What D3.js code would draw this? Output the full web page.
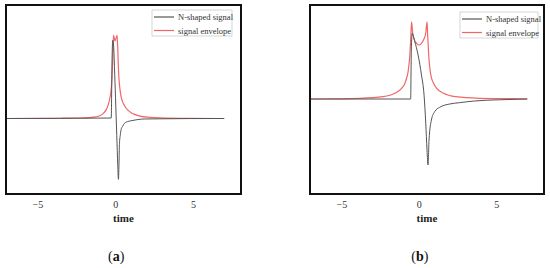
<!DOCTYPE html>
<html>
<head>
<meta charset="utf-8">
<script src="https://cdn.jsdelivr.net/npm/d3@7"></script>
<style>
  body { margin: 0; background: #fff; }
  svg { display: block; }
  text { font-family: "Liberation Serif", "Times New Roman", serif; }
</style>
</head>
<body>
<div id="chart"></div>
<script>
// values (time, relative amplitude)
const xTicks = [-5, 0, 5];
const seriesNames = ["N-shaped signal", "signal envelope"];
const panelNames = ["a", "b"];
const xTitle = "time";

const aSignalT = [-7, -0.258, -0.206, -0.161, -0.110, -0.032, 0.032, 0.097, 0.161, 0.206, 0.245, 0.271, 0.323, 0.374, 0.484, 0.594, 0.806, 1.02, 1.45, 1.90, 2.87, 4.81, 7];
const aSignalY = [0, 0.006, 0.73, 0.98, 0.92, 0.54, 0.17, -0.21, -0.58, -0.76, -0.52, -0.31, -0.21, -0.14, -0.094, -0.06, -0.038, -0.028, -0.013, -0.006, -0.004, -0.001, 0];
const aEnvT = [-7, -3.58, -2.29, -1.645, -1.258, -1.0, -0.8, -0.6, -0.45, -0.35, -0.27, -0.21, -0.16, -0.116, -0.013, 0.116, 0.16, 0.2, 0.25, 0.3, 0.36, 0.45, 0.6, 0.8, 1.0, 1.2, 1.58, 2.23, 2.87, 4.81, 7];
const aEnvY = [0, 0.003, 0.006, 0.012, 0.02, 0.034, 0.058, 0.105, 0.17, 0.25, 0.35, 0.5, 0.75, 1.04, 0.97, 1.04, 0.88, 0.64, 0.47, 0.37, 0.29, 0.22, 0.16, 0.107, 0.075, 0.055, 0.03, 0.014, 0.007, 0.001, 0];

const bSignalT = [-7, -0.526, -0.481, -0.429, -0.256, -0.045, 0.173, 0.34, 0.449, 0.532, 0.596, 0.66, 0.814, 1.026, 1.346, 1.987, 2.63, 3.59, 5.19, 7];
const bSignalY = [0, 0, 0.74, 0.995, 0.868, 0.667, 0.364, 0.06, -0.364, -0.773, -1.0, -0.621, -0.318, -0.192, -0.126, -0.076, -0.056, -0.03, -0.012, 0];
const bEnvT = [-7, -3.78, -2.31, -1.54, -1.11, -0.897, -0.788, -0.686, -0.577, -0.513, -0.468, -0.385, -0.256, -0.128, 0.019, 0.16, 0.32, 0.449, 0.532, 0.577, 0.64, 0.737, 0.833, 0.96, 1.154, 1.6, 2.37, 3.91, 7];
const bEnvY = [0, 0.011, 0.035, 0.087, 0.162, 0.236, 0.314, 0.419, 0.667, 0.95, 1.17, 0.98, 0.88, 0.84, 0.818, 0.84, 0.9, 1.0, 1.17, 0.95, 0.667, 0.42, 0.31, 0.236, 0.162, 0.087, 0.035, 0.011, 0.003];

const width = 550, height = 268;
const svg = d3.select("#chart").append("svg")
  .attr("width", width)
  .attr("height", height);

const panels = [
  { name: panelNames[0], left: 6, right: 241, yDom: [-0.944, 1.419], legX: 152, legW: 80, legY: 10,
    series: [[aSignalT, aSignalY], [aEnvT, aEnvY]] },
  { name: panelNames[1], left: 310, right: 544, yDom: [-1.439, 1.424], legX: 460, legW: 78, legY: 12,
    series: [[bSignalT, bSignalY], [bEnvT, bEnvY]] }
];
const frameTop = 5, frameBottom = 194;
const colors = ["#555", "#f26666"];
const serif = "'Liberation Serif', 'Times New Roman', serif";

panels.forEach((p, i) => {
  const x = d3.scaleLinear().domain([-7.02, 8.08]).range([p.left, p.right]);
  const y = d3.scaleLinear().domain(p.yDom).range([frameBottom, frameTop]);

  const clipId = "clip" + i;
  svg.append("clipPath").attr("id", clipId)
    .append("rect")
    .attr("x", p.left).attr("y", frameTop)
    .attr("width", p.right - p.left).attr("height", frameBottom - frameTop);

  const line = d3.line()
    .x(d => x(d[0]))
    .y(d => y(d[1]))
    .curve(d3.curveMonotoneX);

  // envelope drawn first, signal on top
  [1, 0].forEach(k => {
    const ts = p.series[k][0], vs = p.series[k][1];
    svg.append("path")
      .datum(ts.map((t, j) => [t, vs[j]]))
      .attr("clip-path", "url(#" + clipId + ")")
      .attr("fill", "none")
      .attr("stroke", colors[k])
      .attr("stroke-width", k == 1 ? 1.2 : 1)
      .attr("d", line);
  });

  // frame
  svg.append("rect")
    .attr("x", p.left).attr("y", frameTop)
    .attr("width", p.right - p.left).attr("height", frameBottom - frameTop)
    .attr("fill", "none")
    .attr("stroke", "#111")
    .attr("stroke-width", 2);

  const axis = svg.append("g")
    .attr("transform", "translate(0," + (frameBottom + 1) + ")")
    .call(d3.axisBottom(x).tickValues(xTicks).tickSize(0).tickPadding(6));
  axis.select(".domain").remove();
  axis.attr("font-family", serif);
  axis.selectAll("text")
    .attr("font-size", 10)
    .attr("fill", "#333");

  svg.append("text")
    .attr("x", (p.left + p.right) / 2)
    .attr("y", 222)
    .attr("text-anchor", "middle")
    .attr("font-family", serif)
    .attr("font-weight", "bold")
    .attr("font-size", 11)
    .attr("fill", "#222")
    .text(xTitle);

  const lab = svg.append("text")
    .attr("x", x(0) + 1)
    .attr("y", 261)
    .attr("text-anchor", "middle")
    .attr("font-family", serif)
    .attr("font-size", 14)
    .attr("fill", "#111");
  lab.append("tspan").text("(");
  lab.append("tspan").attr("font-weight", "bold").text(p.name);
  lab.append("tspan").text(")");

  // legend
  const leg = svg.append("g").attr("transform", "translate(" + p.legX + "," + p.legY + ")");
  leg.append("rect")
    .attr("width", p.legW).attr("height", 26)
    .attr("fill", "#fff")
    .attr("stroke", "#ccc")
    .attr("stroke-width", 0.8);
  seriesNames.forEach((s, k) => {
    const yy = 7 + k * 13.5;
    leg.append("line")
      .attr("x1", 2).attr("x2", 22)
      .attr("y1", yy).attr("y2", yy)
      .attr("stroke", colors[k])
      .attr("stroke-width", 1.2);
    leg.append("text")
      .attr("x", 26).attr("y", yy + 3)
      .attr("font-family", serif)
      .attr("font-size", 8.5)
      .attr("fill", "#333")
      .text(s);
  });
});
</script>
</body>
</html>
